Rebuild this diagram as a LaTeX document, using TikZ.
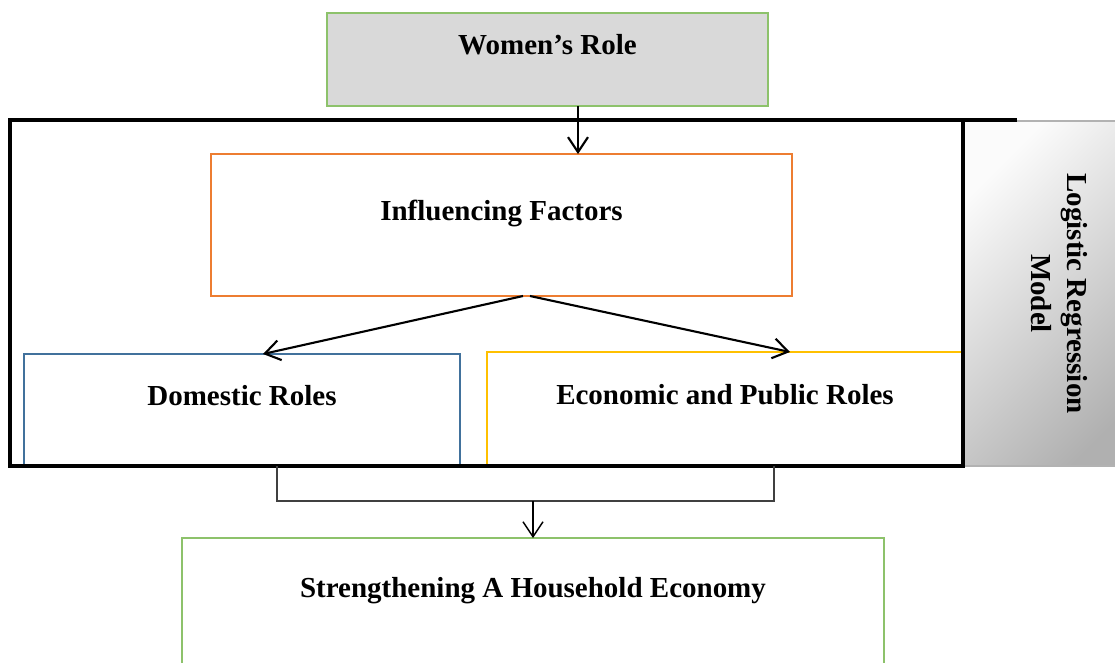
\documentclass[tikz,border=0pt]{standalone}
\usepackage{fontspec}
\setmainfont{Liberation Serif}
\usepackage{graphicx}
\usetikzlibrary{positioning,arrows.meta}

\definecolor{rolegray}{HTML}{D9D9D9}
\definecolor{rolegreen}{HTML}{8DC26B}
\definecolor{factorange}{HTML}{ED7D31}
\definecolor{domblue}{HTML}{41719C}
\definecolor{ecoyellow}{HTML}{FFC000}

\begin{document}
\begin{tikzpicture}[
    box/.style={rectangle, draw, line width=0.85pt, inner sep=0pt, outer sep=0pt, text centered,
        font=\bfseries\fontsize{16.5}{20}\selectfont, text height=0.4cm, text depth=0.6cm},
    rolebox/.style={box, draw=rolegreen, fill=rolegray, minimum width=8.82cm, minimum height=1.86cm},
    factorbox/.style={box, draw=factorange, minimum width=11.62cm, minimum height=2.84cm},
    dombox/.style={box, draw=domblue, line width=1.1pt, minimum width=8.72cm, minimum height=2.24cm},
    ecobox/.style={box, draw=ecoyellow, minimum width=9.52cm, minimum height=2.28cm},
    econbox/.style={box, draw=rolegreen, minimum width=14.04cm, minimum height=2.56cm},
    frame/.style={rectangle, draw=black, line width=2.3pt, inner sep=0pt, outer sep=0pt, minimum width=19.06cm, minimum height=6.92cm},
    modelbox/.style={rectangle, draw=gray!60, line width=0.8pt, inner sep=0pt, outer sep=0pt,
        top color=gray!3, bottom color=gray!62, shading angle=45,
        minimum width=3.74cm, minimum height=6.9cm, font=\bfseries\fontsize{16.5}{20}\selectfont},
    arrow/.style={line width=1.2pt, -{Straight Barb[length=0.3cm, width=0.4cm]}},
    link/.style={line width=0.8pt, draw=black!75}
]
\useasboundingbox (0,0) rectangle (22.3,-13.24);
\clip (0,0) rectangle (22.3,-13.24);

% Top
\node[rolebox] (role) at (10.95,-1.19) {Women’s Role};

% Regression block
\node[modelbox] (model) at (21.13,-5.87) {\rotatebox{-90}{\begin{tabular}{@{}c@{}}Logistic Regression\\Model\end{tabular}}};
\node[factorbox, below=0.96cm of role, xshift=-0.92cm] (factors) {Influencing Factors};
\node[dombox, below=1.16cm of factors, xshift=-5.19cm] (domestic) {Domestic Roles};
\node[ecobox, below=1.12cm of factors, xshift=4.47cm] (economic) {Economic and Public Roles};
\node[frame] (block) at (9.73,-5.86) {};
\draw[line width=2.3pt] (block.north east) -- ++(1.08,0);

% Bottom
\node[econbox, below=1.44cm of block, xshift=0.93cm] (household) {Strengthening A Household Economy};

% Arrows
\draw[arrow] ([xshift=0.61cm]role.south) -- ([xshift=0.61cm]role.south |- factors.north);
\draw[arrow] ([xshift=0.43cm]factors.south) -- ([xshift=0.42cm]domestic.north);
\draw[arrow] ([xshift=0.57cm]factors.south) -- ([xshift=1.3cm]economic.north);

% Joining both roles
\coordinate (domjoin) at ([xshift=0.7cm]domestic.south);
\coordinate (ecojoin) at ([xshift=0.98cm]economic.south);
\draw[link] (domjoin) -- ++(0,-0.7) coordinate (joint) -| (ecojoin);
\draw[arrow, line width=0.8pt] (joint -| household.north) -- (household.north);

\end{tikzpicture}
\end{document}
